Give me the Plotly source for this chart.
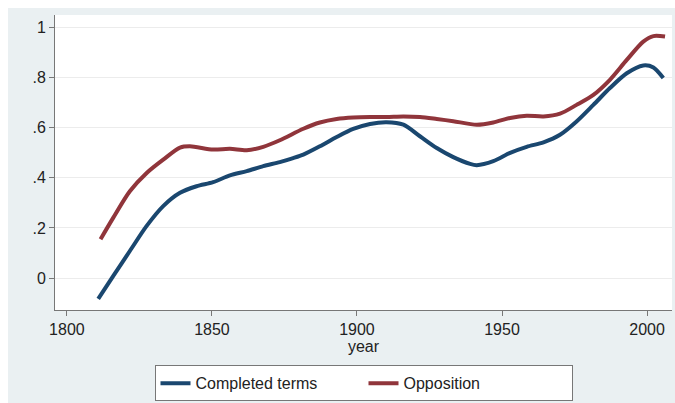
import plotly.graph_objects as go

years_completed = [1810.8, 1816, 1821.7, 1827.5, 1833.2, 1839, 1844.7, 1850.4, 1856.2, 1862, 1867.7,
                   1873.4, 1878, 1881.5, 1887.2, 1893, 1898.7, 1904.5, 1910.2, 1916, 1921.7, 1927.5,
                   1933.2, 1939, 1941.3, 1947, 1952.8, 1958.5, 1964.3, 1970, 1975.7, 1981.5, 1987.2,
                   1993, 1998.7, 2002.2, 2005.6]
completed = [-0.083, 0.009, 0.108, 0.208, 0.287, 0.34, 0.366, 0.382, 0.409, 0.426, 0.446,
             0.462, 0.478, 0.492, 0.525, 0.562, 0.594, 0.614, 0.621, 0.611, 0.565, 0.518,
             0.482, 0.455, 0.45, 0.466, 0.499, 0.523, 0.541, 0.571, 0.624, 0.69, 0.757,
             0.816, 0.847, 0.839, 0.797]

years_opposition = [1811.6, 1816, 1821.7, 1827.5, 1833.2, 1839, 1842.4, 1850.4, 1856.2, 1862, 1867.7,
                    1873.4, 1881.5, 1887.2, 1893, 1898.7, 1904.5, 1910.2, 1916, 1921.7, 1927.5,
                    1933.2, 1941.3, 1947, 1952.8, 1958.5, 1964.3, 1970, 1975.7, 1981.5, 1987.2,
                    1993, 1998.7, 2002.2, 2006.2]
opposition = [0.155, 0.241, 0.346, 0.419, 0.472, 0.52, 0.525, 0.512, 0.515, 0.509, 0.523,
              0.549, 0.595, 0.62, 0.634, 0.64, 0.642, 0.642, 0.644, 0.642, 0.634,
              0.625, 0.611, 0.62, 0.638, 0.647, 0.644, 0.655, 0.69, 0.73, 0.79,
              0.869, 0.942, 0.964, 0.962]

y_tickvals = [0, 0.2, 0.4, 0.6, 0.8, 1]
y_ticktext = ["0", ".2", ".4", ".6", ".8", "1"]
x_tickvals = [1800, 1850, 1900, 1950, 2000]

BG = "#eaf0f2"
FONT = "Liberation Sans, Arial, sans-serif"

fig = go.Figure()
fig.add_trace(go.Scatter(x=years_completed, y=completed, mode="lines", name="Completed terms",
                         line=dict(color="#1a476f", width=4, shape="spline", smoothing=0.8)))
fig.add_trace(go.Scatter(x=years_opposition, y=opposition, mode="lines", name="Opposition",
                         line=dict(color="#90353b", width=4, shape="spline", smoothing=0.8)))

fig.update_layout(
    width=675, height=403,
    margin=dict(l=55, r=3, t=15, b=92),
    paper_bgcolor=BG, plot_bgcolor="white",
    font=dict(family=FONT, size=16, color="#222"),
    showlegend=True,
    legend=dict(orientation="h", x=0.5, xanchor="center", y=-0.305, yanchor="bottom",
                bgcolor="white", bordercolor="#777", borderwidth=1,
                font=dict(size=16, color="#222"), entrywidth=163, entrywidthmode="pixels"),
    xaxis=dict(range=[1795.9, 2008.6], tickvals=x_tickvals, showgrid=False, zeroline=False,
               showline=True, linecolor="#777", linewidth=1, ticks="outside", ticklen=5,
               tickcolor="#777", tickfont=dict(size=16),
               title=dict(text="year", standoff=0, font=dict(size=16))),
    yaxis=dict(range=[-0.127, 1.048], tickvals=y_tickvals, ticktext=y_ticktext,
               showgrid=True, gridcolor="#ececec", gridwidth=1, zeroline=False,
               showline=True, linecolor="#777", linewidth=1, ticks="outside", ticklen=5,
               tickcolor="#777", tickfont=dict(size=16)),
    shapes=[
        dict(type="rect", xref="paper", yref="paper", x0=-0.1, x1=1.01, y0=1.0236, y1=1.06,
             fillcolor="white", line=dict(width=0), layer="below"),
        dict(type="rect", xref="paper", yref="paper", x0=-0.1, x1=-0.0762, y0=-0.4, y1=1.06,
             fillcolor="white", line=dict(width=0), layer="below"),
    ],
)

fig.write_html("out.html")
